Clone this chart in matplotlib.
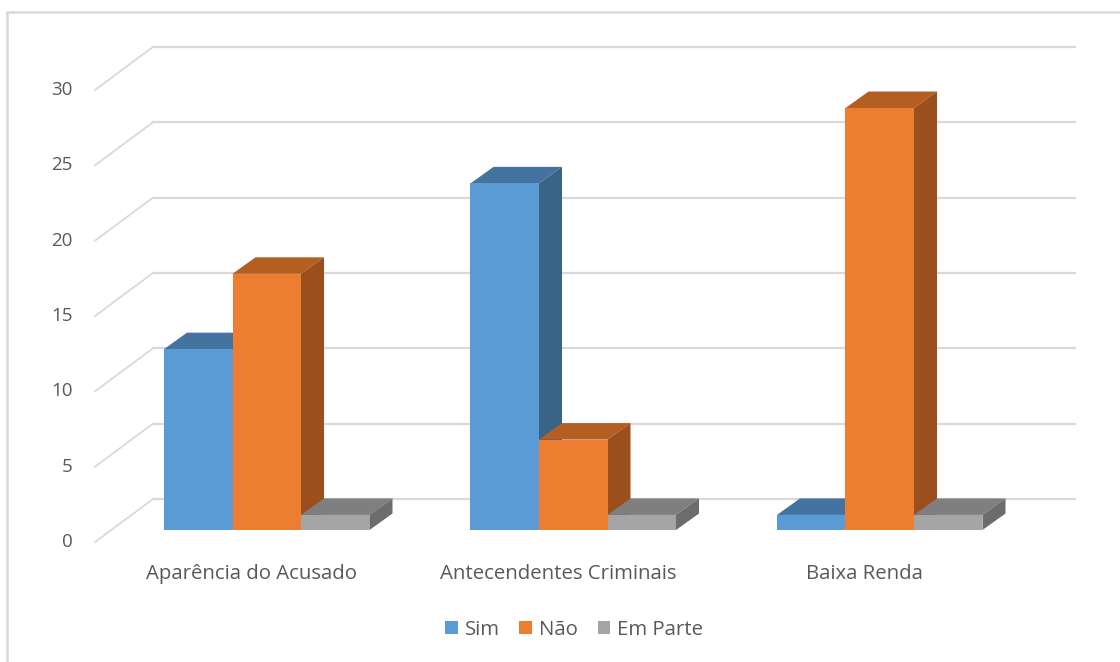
import matplotlib.pyplot as plt
from matplotlib.patches import Polygon, Rectangle

categories = ["Aparência do Acusado", "Antecendentes Criminais", "Baixa Renda"]
series_names = ["Sim", "Não", "Em Parte"]
sim = [12, 23, 1]
nao = [17, 6, 28]
em_parte = [1, 1, 1]
y_ticks = [0, 5, 10, 15, 20, 25, 30]

front_colors = ["#5B9BD5", "#ED7D31", "#A5A5A5"]
top_colors = ["#44739F", "#B55E22", "#7F7F7F"]
side_colors = ["#386488", "#9A4F1D", "#6C6C6C"]
text_color = "#595959"
grid_color = "#D9D9D9"

plt.rcParams["font.family"] = ["Open Sans", "DejaVu Sans"]

fig = plt.figure(figsize=(11.2, 6.62), dpi=100)
ax = fig.add_axes([0, 0, 1, 1])
# one category step = 306.5 px, one value unit = 15.07 px
ax.set_xlim(-266.75 / 306.5, (1120 - 266.75) / 306.5)
ax.set_ylim((530 - 662) / 15.07, 530 / 15.07)
ax.axis("off")

w = 68.5 / 306.5          # bar width
bar_dx, bar_dy = 23 / 306.5, 16.5 / 15.07     # bar depth
wall_x, wall_dy = (153 - 266.75) / 306.5, 31 / 15.07
floor_x, floor_dy = (95 - 266.75) / 306.5, -0.8
right_x = (1075 - 266.75) / 306.5

# back wall gridlines + diagonal floor lines
for v in y_ticks:
    ax.plot([wall_x, right_x], [v + wall_dy, v + wall_dy], color=grid_color, lw=1.6, zorder=1)
    ax.plot([floor_x, wall_x], [v + floor_dy, v + wall_dy], color=grid_color, lw=1.3, zorder=1)
    ax.text(floor_x - 0.072, v + floor_dy, str(v), ha="right", va="center",
            fontsize=13.5, color=text_color)

series = [sim, nao, em_parte]
handles = []
for j, values in enumerate(series):
    xs = [i - w + j * w for i in range(len(categories))]
    z = 3 + j * 3
    bars = ax.bar(xs, values, width=w, color=front_colors[j], zorder=z + 2,
                  label=series_names[j])
    handles.append(bars)
    for x, v in zip(xs, values):
        xl, xr = x - w / 2, x + w / 2
        top = Polygon([(xl, v), (xl + bar_dx, v + bar_dy), (xr + bar_dx, v + bar_dy), (xr, v)],
                      closed=True, facecolor=top_colors[j], edgecolor="none", zorder=z)
        side = Polygon([(xr, 0), (xr, v), (xr + bar_dx, v + bar_dy), (xr + bar_dx, bar_dy)],
                       closed=True, facecolor=side_colors[j], edgecolor="none", zorder=z + 1)
        ax.add_patch(top)
        ax.add_patch(side)

for i, name in enumerate(categories):
    ax.text(i - 0.05, (530 - 574) / 15.07, name, ha="center", va="center",
            fontsize=14.7, color=text_color)

leg = ax.legend(handles=handles, loc="center", bbox_to_anchor=(574 / 1120, 1 - 630 / 662),
                ncol=3, frameon=False, fontsize=14.7, handlelength=0.6, handleheight=0.6,
                handletextpad=0.34, columnspacing=0.98)
for t in leg.get_texts():
    t.set_color(text_color)

# chart area border
fig.patches.append(Rectangle((6.5 / 1120, -0.1), 1.2, 1 - 11.5 / 662 + 0.1,
                             transform=fig.transFigure, fill=False,
                             edgecolor=grid_color, lw=1.8))

fig.savefig("out.png", dpi=100)
